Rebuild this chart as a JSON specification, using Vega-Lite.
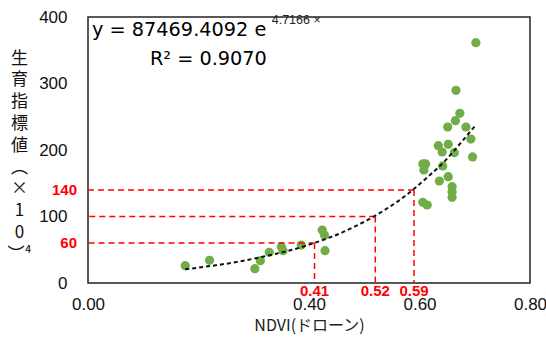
{
  "$schema": "https://vega.github.io/schema/vega-lite/v6.json",
  "width": 442,
  "height": 266,
  "autosize": {"type": "none"},
  "padding": {"left": 88, "top": 17, "right": 16, "bottom": 55},
  "background": "white",
  "config": {
    "view": {"stroke": "#222", "strokeWidth": 1.5},
    "axis": {"grid": false, "ticks": false, "domain": false, "labelFlush": false}
  },
  "datasets": {
    "pts": [
      {"ndvi": 0.176, "val": 26.0},
      {"ndvi": 0.220, "val": 34.1},
      {"ndvi": 0.302, "val": 21.5},
      {"ndvi": 0.312, "val": 33.5},
      {"ndvi": 0.328, "val": 46.2},
      {"ndvi": 0.350, "val": 54.6},
      {"ndvi": 0.353, "val": 48.6},
      {"ndvi": 0.386, "val": 57.1},
      {"ndvi": 0.424, "val": 79.7},
      {"ndvi": 0.428, "val": 72.2},
      {"ndvi": 0.429, "val": 48.6},
      {"ndvi": 0.702, "val": 361.4},
      {"ndvi": 0.666, "val": 289.8},
      {"ndvi": 0.673, "val": 255.2},
      {"ndvi": 0.665, "val": 244.1},
      {"ndvi": 0.651, "val": 234.6},
      {"ndvi": 0.684, "val": 234.6},
      {"ndvi": 0.693, "val": 216.5},
      {"ndvi": 0.634, "val": 206.5},
      {"ndvi": 0.652, "val": 208.6},
      {"ndvi": 0.641, "val": 197.0},
      {"ndvi": 0.663, "val": 195.9},
      {"ndvi": 0.696, "val": 189.5},
      {"ndvi": 0.606, "val": 179.0},
      {"ndvi": 0.611, "val": 179.0},
      {"ndvi": 0.608, "val": 170.0},
      {"ndvi": 0.642, "val": 176.0},
      {"ndvi": 0.652, "val": 159.8},
      {"ndvi": 0.636, "val": 153.4},
      {"ndvi": 0.659, "val": 144.8},
      {"ndvi": 0.659, "val": 137.3},
      {"ndvi": 0.659, "val": 128.9},
      {"ndvi": 0.606, "val": 121.4},
      {"ndvi": 0.614, "val": 117.3}
    ],
    "trend": [
      {"ndvi": 0.176, "val": 20.6},
      {"ndvi": 0.221, "val": 25.5},
      {"ndvi": 0.269, "val": 31.5},
      {"ndvi": 0.311, "val": 38.6},
      {"ndvi": 0.348, "val": 45.5},
      {"ndvi": 0.390, "val": 54.8},
      {"ndvi": 0.408, "val": 59.7},
      {"ndvi": 0.432, "val": 66.8},
      {"ndvi": 0.456, "val": 74.5},
      {"ndvi": 0.483, "val": 85.0},
      {"ndvi": 0.510, "val": 96.5},
      {"ndvi": 0.540, "val": 111.5},
      {"ndvi": 0.562, "val": 123.5},
      {"ndvi": 0.586, "val": 138.8},
      {"ndvi": 0.619, "val": 162.5},
      {"ndvi": 0.643, "val": 181.0},
      {"ndvi": 0.661, "val": 197.4},
      {"ndvi": 0.679, "val": 215.0},
      {"ndvi": 0.702, "val": 237.6}
    ],
    "guides": [
      {"ndvi": 0.41, "val": 60},
      {"ndvi": 0.52, "val": 100},
      {"ndvi": 0.59, "val": 140}
    ]
  },
  "layer": [
    {
      "data": {"name": "pts"},
      "mark": {"type": "circle", "color": "#70AD47", "opacity": 1, "size": 85},
      "encoding": {
        "x": {
          "field": "ndvi", "type": "quantitative",
          "scale": {"domain": [0, 0.8], "nice": false, "zero": false},
          "axis": {
            "values": [0, 0.4, 0.6, 0.8], "format": ".2f",
            "labelFont": "Liberation Sans", "labelFontSize": 17, "labelColor": "#111",
            "labelPadding": 13,
            "title": "NDVI(ドローン)", "titleFont": "Noto Sans CJK JP", "titleFontSize": 16,
            "titleFontWeight": "normal", "titleColor": "#222", "titlePadding": 5
          }
        },
        "y": {
          "field": "val", "type": "quantitative",
          "scale": {"domain": [0, 400], "nice": false},
          "axis": {
            "values": [0, 100, 200, 300, 400],
            "labelFont": "Liberation Sans", "labelFontSize": 17, "labelColor": "#111",
            "labelPadding": 21,
            "title": ["生", "育", "指", "標", "値", "︵", "×", "1", "0", "︶⁴"],
            "titleFont": "Noto Sans CJK JP", "titleFontSize": 17, "titleFontWeight": "normal",
            "titleColor": "#111", "titleAngle": 0, "titleAlign": "center", "titleBaseline": "top",
            "titleX": -69, "titleY": 33, "titleLineHeight": 21.8
          }
        }
      }
    },
    {
      "data": {"name": "guides"},
      "mark": {"type": "rule", "color": "#FF0000", "strokeWidth": 1.5, "strokeDash": [6, 4]},
      "encoding": {
        "x": {"field": "ndvi", "type": "quantitative"},
        "x2": {"datum": 0},
        "y": {"field": "val", "type": "quantitative"}
      }
    },
    {
      "data": {"name": "guides"},
      "mark": {"type": "rule", "color": "#FF0000", "strokeWidth": 1.5, "strokeDash": [6, 4]},
      "encoding": {
        "x": {"field": "ndvi", "type": "quantitative"},
        "y": {"field": "val", "type": "quantitative"},
        "y2": {"datum": 0}
      }
    },
    {
      "data": {"name": "trend"},
      "mark": {"type": "line", "color": "#111", "strokeWidth": 2, "strokeDash": [4, 3], "interpolate": "monotone"},
      "encoding": {
        "x": {"field": "ndvi", "type": "quantitative"},
        "y": {"field": "val", "type": "quantitative"}
      }
    },
    {
      "data": {"name": "guides"},
      "transform": [{"filter": "datum.val != 100"}],
      "mark": {"type": "text", "align": "right", "baseline": "middle", "dx": -11, "color": "#FF0000", "font": "Liberation Sans", "fontSize": 15, "fontWeight": "bold"},
      "encoding": {
        "x": {"datum": 0, "type": "quantitative"},
        "y": {"field": "val", "type": "quantitative"},
        "text": {"field": "val", "type": "quantitative"}
      }
    },
    {
      "data": {"name": "guides"},
      "mark": {"type": "text", "align": "center", "baseline": "top", "dy": 1, "color": "#FF0000", "font": "Liberation Sans", "fontSize": 15, "fontWeight": "bold"},
      "encoding": {
        "x": {"field": "ndvi", "type": "quantitative"},
        "y": {"datum": 0, "type": "quantitative"},
        "text": {"field": "ndvi", "type": "quantitative", "format": ".2f"}
      }
    },
    {
      "data": {"values": [{}]},
      "mark": {"type": "text", "text": "y = 87469.4092 e", "align": "left", "baseline": "alphabetic", "font": "DejaVu Sans", "fontSize": 19.3, "color": "#000"},
      "encoding": {
        "x": {"datum": 0.0072, "type": "quantitative"},
        "y": {"datum": 371.4, "type": "quantitative"}
      }
    },
    {
      "data": {"values": [{}]},
      "mark": {"type": "text", "text": "4.7166 ×", "align": "left", "baseline": "alphabetic", "font": "Liberation Sans", "fontSize": 12.5, "color": "#222"},
      "encoding": {
        "x": {"datum": 0.3325, "type": "quantitative"},
        "y": {"datum": 389.5, "type": "quantitative"}
      }
    },
    {
      "data": {"values": [{}]},
      "mark": {"type": "text", "text": "R² = 0.9070", "align": "left", "baseline": "alphabetic", "font": "DejaVu Sans", "fontSize": 19.3, "color": "#000"},
      "encoding": {
        "x": {"datum": 0.112, "type": "quantitative"},
        "y": {"datum": 327.8, "type": "quantitative"}
      }
    }
  ]
}
